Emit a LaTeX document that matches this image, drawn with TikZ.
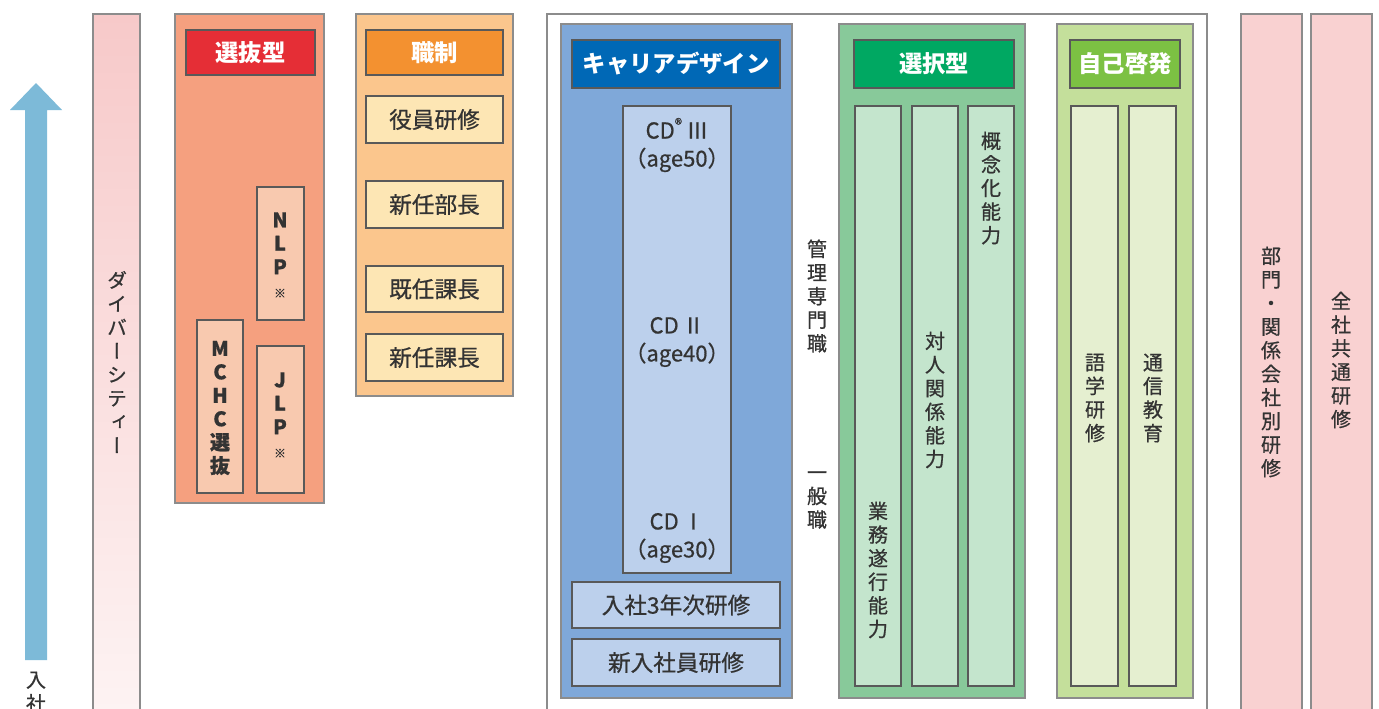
\documentclass[tikz,border=0pt]{standalone}
\usepackage{fontspec}
\setmainfont{Noto Sans CJK JP}
\newfontfamily\jpm[FakeBold=0.7]{Noto Sans CJK JP}
\newfontfamily\vjp[RawFeature=+vert,FakeBold=0.7]{Noto Sans CJK JP}
\definecolor{arrowc}{HTML}{7DBAD8}
\definecolor{divtop}{HTML}{F7C9C9}
\definecolor{divbot}{HTML}{FDF3F3}
\definecolor{redg}{HTML}{F5A07F}
\definecolor{redh}{HTML}{E52E36}
\definecolor{redb}{HTML}{F8C9AF}
\definecolor{orag}{HTML}{FBC68D}
\definecolor{orah}{HTML}{F39130}
\definecolor{orab}{HTML}{FDE6B4}
\definecolor{blug}{HTML}{7FA8D9}
\definecolor{bluh}{HTML}{0068B6}
\definecolor{blub}{HTML}{BCD0EC}
\definecolor{grng}{HTML}{88C99A}
\definecolor{grnh}{HTML}{00A862}
\definecolor{grnb}{HTML}{C4E5CD}
\definecolor{limg}{HTML}{C4DF9B}
\definecolor{limh}{HTML}{7CC143}
\definecolor{limb}{HTML}{E5EFD0}
\definecolor{pinkb}{HTML}{F9D1D1}
\definecolor{txt}{HTML}{333333}
\newcommand\rbox[7]{%
  \pgfmathsetmacro\rbcx{(#3+#5)/2}%
  \pgfmathsetmacro\rbcy{(#4+#6)/2}%
  \pgfmathsetmacro\rbw{(#5-#3)*0.75}%
  \pgfmathsetmacro\rbh{(#6-#4)*0.75}%
  \node[#1, minimum width=\rbw pt, minimum height=\rbh pt, inner sep=0pt, outer sep=0pt] (#2) at (\rbcx,\rbcy) {#7};}
\begin{document}
\begin{tikzpicture}[x=0.75pt,y=-0.75pt,
  grp/.style={draw=black!45, line width=0.8pt},
  box/.style={draw=black!65, line width=1.1pt},
  hdr/.style={draw=black!65, line width=1.1pt, text=white, font=\bfseries\fontsize{17.5}{20}\selectfont},
  lab/.style={text=txt, font=\jpm\fontsize{17}{20}\selectfont},
  vlab/.style={text=txt, align=center, inner sep=0pt, font=\vjp\fontsize{15}{17.7}\selectfont},
  cdlab/.style={text=txt, align=center, inner sep=0pt, font=\jpm\fontsize{16.5}{21}\selectfont}]
\useasboundingbox (0,0) rectangle (1379,708);
\fill[white] (0,0) rectangle (1379,708);
% growth arrow
\fill[arrowc] (25,660) -- (25,110) -- (10,110) -- (36,83) -- (62,110) -- (47,110) -- (47,660) -- cycle;
\node[vlab] (nyusha) at (36,692) {入\\社};
% diversity
\rbox{grp, top color=divtop, bottom color=divbot}{div}{93}{14}{140}{712}{}
\node[vlab] (divt) at (117,362) {ダ\\イ\\バ\\ー\\シ\\テ\\ィ\\ー};
% selection group
\rbox{grp, fill=redg}{sel}{175}{14}{324}{503}{}
\rbox{hdr, fill=redh}{selh}{186}{30}{315}{75}{選抜型}
\rbox{box, fill=redb}{nlp}{257}{187}{304}{320}{}
\rbox{box, fill=redb}{mchc}{197}{320}{243}{493}{}
\rbox{box, fill=redb}{jlp}{257}{346}{304}{493}{}
\node[vlab, font=\bfseries\vjp\fontsize{15}{17.6}\selectfont] (nlpt) at (280,255) {N\\L\\P\\{\fontsize{9}{12}\selectfont ※}};
\node[vlab, font=\bfseries\vjp\fontsize{15}{17.6}\selectfont] (mchct) at (220,408) {M\\C\\H\\C\\選\\抜};
\node[vlab, font=\bfseries\vjp\fontsize{15}{17.6}\selectfont] (jlpt) at (280,415) {J\\L\\P\\{\fontsize{9}{12}\selectfont ※}};
% grade group
\rbox{grp, fill=orag}{grade}{356}{14}{513}{396}{}
\rbox{hdr, fill=orah}{gradeh}{366}{30}{503}{75}{職制}
\rbox{box, fill=orab, lab}{yaku}{366}{96}{503}{143}{役員研修}
\rbox{box, fill=orab, lab}{bucho}{366}{181}{503}{228}{新任部長}
\rbox{box, fill=orab, lab}{kicho}{366}{266}{503}{312}{既任課長}
\rbox{box, fill=orab, lab}{kacho}{366}{334}{503}{381}{新任課長}
% main frame
\rbox{grp, fill=white}{frame}{547}{14}{1207}{712}{}
% career design
\rbox{grp, fill=blug}{cd}{561}{24}{792}{698}{}
\rbox{hdr, fill=bluh}{cdh}{572}{40}{780}{88}{キャリアデザイン}
\rbox{box, fill=blub}{cdcol}{623}{106}{731}{573}{}
\node[cdlab] (cd3) at (677,145) {CD\textsuperscript{®}\,Ⅲ\\（age50）};
\node[cdlab] (cd2) at (677,342) {CD\,Ⅱ\\（age40）};
\node[cdlab] (cd1) at (677,538) {CD\,Ⅰ\\（age30）};
\rbox{box, fill=blub, lab}{san}{572}{582}{780}{628}{入社3年次研修}
\rbox{box, fill=blub, lab}{shin}{572}{639}{780}{686}{新入社員研修}
\node[vlab] (kanri) at (817,296) {管\\理\\専\\門\\職};
\node[vlab] (ippan) at (817,500) {一\\般\\職};
% selective
\rbox{grp, fill=grng}{sen}{839}{24}{1025}{698}{}
\rbox{hdr, fill=grnh}{senh}{854}{40}{1014}{88}{選択型}
\rbox{box, fill=grnb}{g1}{855}{106}{901}{686}{}
\rbox{box, fill=grnb}{g2}{912}{106}{958}{686}{}
\rbox{box, fill=grnb}{g3}{968}{106}{1014}{686}{}
\node[vlab] (g1t) at (878,570) {業\\務\\遂\\行\\能\\力};
\node[vlab] (g2t) at (935,400) {対\\人\\関\\係\\能\\力};
\node[vlab] (g3t) at (991,188) {概\\念\\化\\能\\力};
% self development
\rbox{grp, fill=limg}{jiko}{1057}{24}{1193}{698}{}
\rbox{hdr, fill=limh}{jikoh}{1070}{40}{1180}{88}{自己啓発}
\rbox{box, fill=limb}{l1}{1071}{106}{1118}{686}{}
\rbox{box, fill=limb}{l2}{1129}{106}{1176}{686}{}
\node[vlab] (l1t) at (1095,398) {語\\学\\研\\修};
\node[vlab] (l2t) at (1153,398) {通\\信\\教\\育};
% right bars
\rbox{grp, fill=pinkb}{bumon}{1241}{14}{1302}{712}{}
\rbox{grp, fill=pinkb}{zensha}{1311}{14}{1372}{712}{}
\node[vlab] (bumont) at (1271,362) {部\\門\\・\\関\\係\\会\\社\\別\\研\\修};
\node[vlab] (zenshat) at (1341,360) {全\\社\\共\\通\\研\\修};
\end{tikzpicture}
\end{document}
